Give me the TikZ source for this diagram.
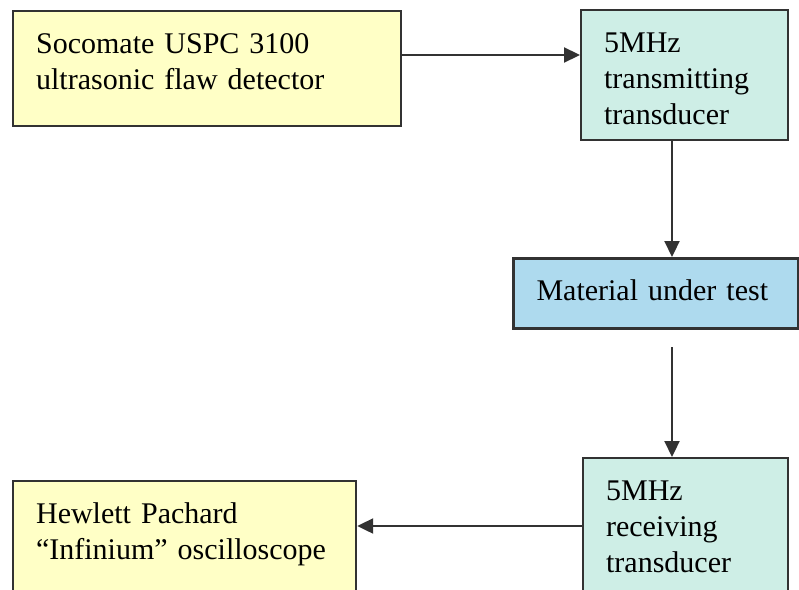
\documentclass[tikz,border=0pt]{standalone}
\usepackage{fontspec}
\setmainfont{Liberation Serif}
\usepackage{xcolor}
\usepackage{tikz}
\usetikzlibrary{arrows.meta}

\definecolor{boxyellow}{RGB}{255,255,198}
\definecolor{boxteal}{RGB}{206,238,230}
\definecolor{boxblue}{RGB}{174,218,238}
\definecolor{linegray}{RGB}{50,50,50}

\begin{document}
\begin{tikzpicture}[x=1pt,y=-1pt,
  box/.style={draw=linegray, line width=2.2pt, anchor=north west, align=left,
    inner xsep=23pt, inner ysep=0pt, text height=42pt,
    font=\fontsize{30}{36}\selectfont},
  arrow/.style={draw=linegray, line width=2.2pt, -{Triangle[length=16pt,width=15pt]}}]

\useasboundingbox (0,0) rectangle (799,589);
\clip (0,0) rectangle (799,589);

\node[box, fill=boxyellow, text width=342pt, text depth=73pt] (det) at (12,10)
  {Socomate USPC 3100\\ultrasonic flaw detector};
\node[box, fill=boxteal, text width=161pt, text depth=88pt] (tx) at (580,9)
  {5MHz\\transmitting\\transducer};
\node[box, fill=boxblue, line width=3pt, text width=239pt, text depth=28pt] (mut) at (512,257)
  {Material under test};
\node[box, fill=boxteal, text width=159pt, text depth=150pt] (rx) at (582,457)
  {5MHz\\receiving\\transducer};
\node[box, fill=boxyellow, text width=297pt, text depth=150pt] (osc) at (12,480)
  {Hewlett Pachard\\``Infinium'' oscilloscope};

\coordinate (axis) at (672,0);
\coordinate (top) at (0,55);
\coordinate (bottom) at (0,526);

\draw[arrow] (det.east |- top) -- (tx.west |- top);
\draw[arrow] (tx.south -| axis) -- (mut.north -| axis);
\draw[arrow, shorten <=17pt] (mut.south -| axis) -- (rx.north -| axis);
\draw[arrow] (rx.west |- bottom) -- (osc.east |- bottom);

\end{tikzpicture}
\end{document}
